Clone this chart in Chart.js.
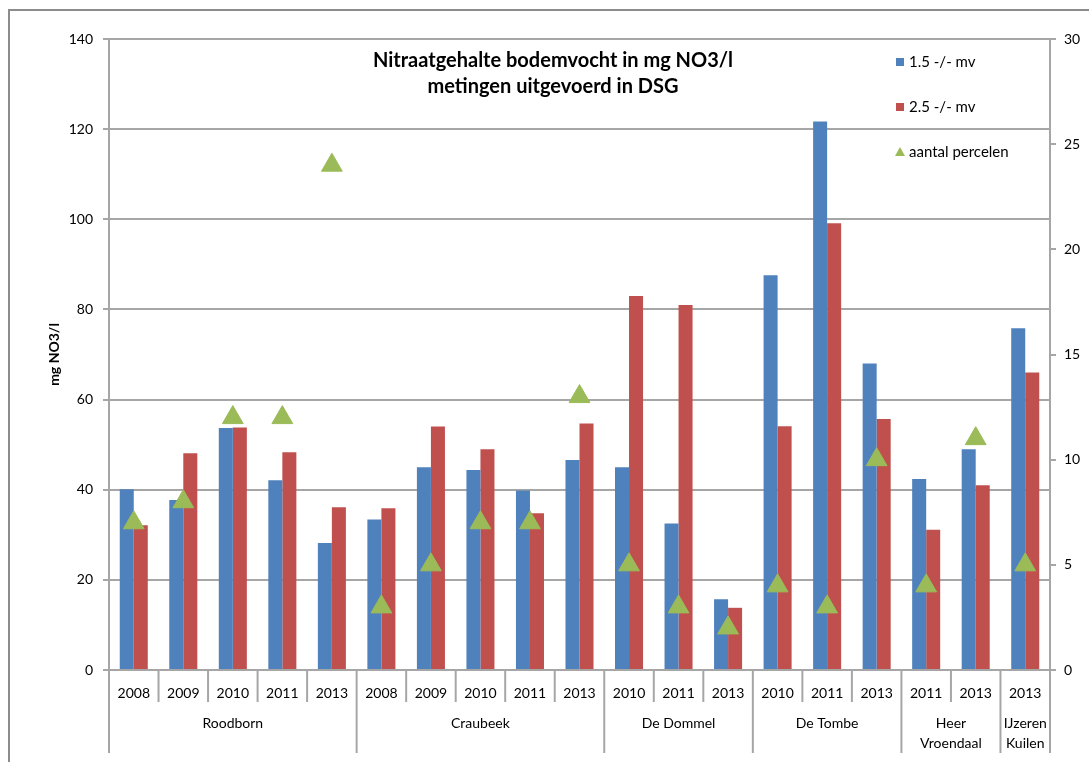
<!DOCTYPE html>
<html>
<head>
<meta charset="utf-8">
<script src="https://cdn.jsdelivr.net/npm/chart.js@4"></script>
<style>
  body { margin: 0; background: #fff; }
  canvas { display: block; }
</style>
</head>
<body>
<canvas id="nitraatChart" width="1089" height="762"></canvas>
<script>
// categorieen (jaar per gebied)
const years = ['2008', '2009', '2010', '2011', '2013',
               '2008', '2009', '2010', '2011', '2013',
               '2010', '2011', '2013',
               '2010', '2011', '2013',
               '2011', '2013',
               '2013'];
const groups = ['Roodborn', 'Craubeek', 'De Dommel', 'De Tombe', ['Heer', 'Vroendaal'], ['IJzeren', 'Kuilen']];
const groupSizes = [5, 5, 3, 3, 2, 1];

// mg NO3/l
const diep15 = [40.1, 37.7, 53.7, 42.1, 28.2, 33.4, 45.0, 44.4, 39.8, 46.6, 45.0, 32.5, 15.7, 87.6, 121.7, 68.0, 42.4, 49.0, 75.8];
const diep25 = [32.1, 48.1, 53.8, 48.3, 36.1, 35.9, 54.0, 49.0, 34.8, 54.7, 83.0, 81.0, 13.8, 54.1, 99.1, 55.7, 31.1, 41.0, 66.0];
// aantal percelen (rechter as)
const percelen = [7, 8, 12, 12, 24, 3, 5, 7, 7, 13, 5, 3, 2, 4, 3, 10, 4, 11, 5];

const leftTicks = [0, 20, 40, 60, 80, 100, 120, 140];
const rightTicks = [0, 5, 10, 15, 20, 25, 30];

const titleLines = ['Nitraatgehalte bodemvocht in mg NO3/l', 'metingen uitgevoerd in DSG'];

const BLUE = '#4F81BD', RED = '#C0504D', GREEN = '#9BBB59', GRID = '#a6a6a6';
const FONT = 'Lato, "Open Sans", sans-serif';

const extras = {
  id: 'extras',
  beforeDraw(chart) {
    const c = chart.ctx;
    c.save();
    c.strokeStyle = '#8c8c8c';
    c.lineWidth = 2;
    c.beginPath();
    c.moveTo(9, 762);
    c.lineTo(9, 10);
    c.lineTo(1089, 10);
    c.stroke();
    c.restore();
  },
  afterDraw(chart) {
    const c = chart.ctx;
    const x = chart.scales.x;
    const area = chart.chartArea;
    const step = x.getPixelForValue(1) - x.getPixelForValue(0);
    c.save();

    // separators under the axis
    c.strokeStyle = GRID;
    c.lineWidth = 2;
    const groupEdges = new Set([0]);
    let acc = 0;
    groupSizes.forEach(n => { acc += n; groupEdges.add(acc); });
    for (let i = 0; i <= years.length; i++) {
      const px = x.getPixelForValue(i) - step / 2;
      const len = groupEdges.has(i) ? 83 : 32;
      c.beginPath();
      c.moveTo(px, area.bottom);
      c.lineTo(px, area.bottom + len);
      c.stroke();
    }

    // group names
    c.fillStyle = '#000';
    c.font = '14px ' + FONT;
    c.textAlign = 'center';
    c.textBaseline = 'middle';
    let start = 0;
    groups.forEach((g, gi) => {
      const end = start + groupSizes[gi] - 1;
      const cx = (x.getPixelForValue(start) + x.getPixelForValue(end)) / 2;
      const lines = Array.isArray(g) ? g : [g];
      lines.forEach((t, li) => c.fillText(t, cx, area.bottom + 53 + li * 20));
      start = end + 1;
    });

    // y axis title
    c.save();
    c.translate(54, (area.top + area.bottom) / 2);
    c.rotate(-Math.PI / 2);
    c.font = 'bold 14px ' + FONT;
    c.fillText('mg NO3/l', 0, 0);
    c.restore();

    // chart title
    c.font = 'bold 20px ' + FONT;
    titleLines.forEach((t, i) => c.fillText(t, 553, 61 + i * 26));

    // legend
    c.font = '15px ' + FONT;
    c.textAlign = 'left';
    chart.data.datasets.forEach((ds, i) => {
      const ly = 62 + i * 45;
      c.fillStyle = ds.backgroundColor;
      if (ds.type === 'line') {
        c.beginPath();
        c.moveTo(900, ly - 5);
        c.lineTo(905, ly + 4);
        c.lineTo(895, ly + 4);
        c.closePath();
        c.fill();
      } else {
        c.fillRect(896, ly - 4, 8, 8);
      }
      c.fillStyle = '#000';
      c.fillText(ds.label, 909, ly);
    });
    c.restore();
  }
};

new Chart(document.getElementById('nitraatChart'), {
  data: {
    labels: years,
    datasets: [
      { type: 'bar', label: '1.5 -/- mv', data: diep15, backgroundColor: BLUE, yAxisID: 'y', order: 1,
        categoryPercentage: 0.566, barPercentage: 1.0 },
      { type: 'bar', label: '2.5 -/- mv', data: diep25, backgroundColor: RED, yAxisID: 'y', order: 1,
        categoryPercentage: 0.566, barPercentage: 1.0 },
      { type: 'line', label: 'aantal percelen', data: percelen, yAxisID: 'y1', order: 0,
        showLine: false, pointStyle: 'triangle', pointRadius: 12, pointHoverRadius: 12,
        backgroundColor: GREEN, borderColor: GREEN, pointBorderWidth: 1 }
    ]
  },
  options: {
    responsive: false,
    animation: false,
    devicePixelRatio: 1,
    layout: { padding: { top: 39, left: 0, right: 0, bottom: 0 } },
    plugins: { legend: { display: false }, tooltip: { enabled: false } },
    scales: {
      x: {
        offset: true,
        grid: { display: false },
        border: { display: true, color: GRID, width: 2 },
        ticks: { color: '#000', font: { family: FONT, size: 14 }, padding: 7, autoSkip: false, maxRotation: 0 },
        afterFit(s) { s.height = 92; }
      },
      y: {
        position: 'left',
        min: 0, max: 140,
        afterBuildTicks(s) { s.ticks = leftTicks.map(v => ({ value: v })); },
        grid: { color: GRID, lineWidth: 2, tickLength: 6 },
        border: { display: true, color: GRID, width: 2 },
        ticks: { color: '#000', font: { family: FONT, size: 14 }, padding: 10 },
        afterFit(s) { s.width = 109; }
      },
      y1: {
        position: 'right',
        min: 0, max: 30,
        afterBuildTicks(s) { s.ticks = rightTicks.map(v => ({ value: v })); },
        grid: { drawOnChartArea: false, color: GRID, lineWidth: 2, tickLength: 6 },
        border: { display: true, color: GRID, width: 2 },
        ticks: { color: '#000', font: { family: FONT, size: 14 }, padding: 8 },
        afterFit(s) { s.width = 39; }
      }
    }
  },
  plugins: [extras]
});
</script>
</body>
</html>
